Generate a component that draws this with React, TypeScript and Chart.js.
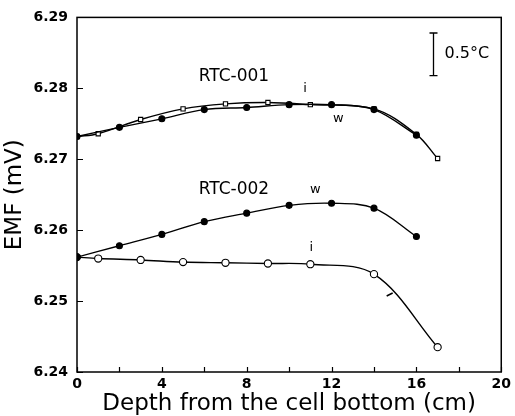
import React, { useEffect, useRef } from "react";
import { Chart, registerables } from "chart.js";

Chart.register(...registerables);

// ---- data ----
const rtc001wDepth = [0, 2, 4, 6, 8, 10, 12, 14, 16];
const rtc001wEmf = [6.2732, 6.2745, 6.2757, 6.277, 6.2773, 6.2777, 6.2777, 6.277, 6.2734];

const rtc001iDepth = [0, 1, 3, 5, 7, 9, 11, 14, 16, 17];
const rtc001iEmf = [6.2732, 6.2736, 6.2756, 6.2771, 6.2778, 6.278, 6.2777, 6.2771, 6.2735, 6.2701];

const rtc002wDepth = [0, 2, 4, 6, 8, 10, 12, 14, 16];
const rtc002wEmf = [6.2562, 6.2578, 6.2594, 6.2612, 6.2624, 6.2635, 6.2638, 6.2631, 6.2591];

const rtc002iDepth = [0, 1, 3, 5, 7, 9, 11, 14, 17];
const rtc002iEmf = [6.2562, 6.256, 6.2558, 6.2555, 6.2554, 6.2553, 6.2552, 6.2538, 6.2435];

const xLabeledTicks = [0, 4, 8, 12, 16, 20];
const yTickLabels = ["6.24", "6.25", "6.26", "6.27", "6.28", "6.29"];

const xTitle = "Depth from the cell bottom (cm)";
const yTitle = "EMF (mV)";

// text annotations placed in data coordinates
const annotations = [
  { text: "RTC-001", x: 7.4, y: 6.2817, size: 17 },
  { text: "i", x: 10.75, y: 6.2799, size: 13 },
  { text: "w", x: 12.32, y: 6.2757, size: 13 },
  { text: "RTC-002", x: 7.4, y: 6.2657, size: 17 },
  { text: "w", x: 11.23, y: 6.2657, size: 13 },
  { text: "i", x: 11.04, y: 6.2575, size: 13 },
];
const scaleBar = { x: 16.77, yTop: 6.2878, yBottom: 6.2818, label: "0.5°C" };

const FONT = "'DejaVu Sans', sans-serif";

const pts = (xs: number[], ys: number[]) => xs.map((x, i) => ({ x, y: ys[i] }));

const framePlugin = {
  id: "frameTicks",
  afterDraw(chart: any) {
    const { ctx, chartArea, scales } = chart;
    const { left, right, top, bottom } = chartArea;
    const xs = scales.x;
    const ys = scales.y;
    ctx.save();
    ctx.strokeStyle = "#000";
    ctx.lineWidth = 1.5;
    ctx.strokeRect(left, top, right - left, bottom - top);
    ctx.lineWidth = 1.2;
    ctx.beginPath();
    xs.ticks.forEach((t: any) => {
      const px = Math.round(xs.getPixelForValue(t.value)) + 0.5;
      ctx.moveTo(px, bottom);
      ctx.lineTo(px, bottom - 5);
    });
    ys.ticks.forEach((t: any) => {
      const py = Math.round(ys.getPixelForValue(t.value)) + 0.5;
      ctx.moveTo(left, py);
      ctx.lineTo(left + 6, py);
    });
    ctx.stroke();

    // text annotations
    ctx.fillStyle = "#000";
    ctx.textAlign = "center";
    ctx.textBaseline = "middle";
    annotations.forEach((a) => {
      ctx.font = `${a.size}px ${FONT}`;
      ctx.fillText(a.text, xs.getPixelForValue(a.x), ys.getPixelForValue(a.y));
    });

    // small mark on RTC-002 i curve
    const mx = xs.getPixelForValue(14.74);
    const my = ys.getPixelForValue(6.251);
    ctx.lineWidth = 1.5;
    ctx.beginPath();
    ctx.moveTo(mx - 3, my + 2);
    ctx.lineTo(mx + 3, my - 1);
    ctx.stroke();

    // scale bar
    const bx = Math.round(xs.getPixelForValue(scaleBar.x)) + 0.5;
    const by1 = ys.getPixelForValue(scaleBar.yTop);
    const by2 = ys.getPixelForValue(scaleBar.yBottom);
    ctx.lineWidth = 1.3;
    ctx.beginPath();
    ctx.moveTo(bx, by1);
    ctx.lineTo(bx, by2);
    ctx.moveTo(bx - 4, by1);
    ctx.lineTo(bx + 4, by1);
    ctx.moveTo(bx - 4, by2);
    ctx.lineTo(bx + 4, by2);
    ctx.stroke();
    ctx.font = `16px ${FONT}`;
    ctx.textAlign = "left";
    ctx.fillText(scaleBar.label, bx + 11, (by1 + by2) / 2);
    ctx.restore();
  },
};

export default function App() {
  const ref = useRef<HTMLCanvasElement | null>(null);
  useEffect(() => {
    if (!ref.current) return;
    const line = {
      borderColor: "#000",
      borderWidth: 1.4,
      pointBorderColor: "#000",
      pointBorderWidth: 1.1,
      tension: 0.35,
      fill: false,
    };
    const chart = new Chart(ref.current, {
      type: "line",
      data: {
        datasets: [
          {
            ...line,
            label: "RTC-001 w",
            data: pts(rtc001wDepth, rtc001wEmf),
            pointStyle: "circle",
            pointRadius: 3,
            pointBackgroundColor: "#000",
          },
          {
            ...line,
            label: "RTC-001 i",
            data: pts(rtc001iDepth, rtc001iEmf),
            pointStyle: "rect",
            pointRadius: 3,
            pointBackgroundColor: "#fff",
          },
          {
            ...line,
            label: "RTC-002 w",
            data: pts(rtc002wDepth, rtc002wEmf),
            pointStyle: "circle",
            pointRadius: 3,
            pointBackgroundColor: "#000",
          },
          {
            ...line,
            label: "RTC-002 i",
            data: pts(rtc002iDepth, rtc002iEmf),
            pointStyle: "circle",
            pointRadius: 3.6,
            pointBackgroundColor: "#fff",
          },
        ],
      },
      options: {
        animation: false,
        responsive: false,
        devicePixelRatio: 1,
        layout: { padding: { top: 14, right: 11, left: 0, bottom: 0 } },
        plugins: { legend: { display: false }, tooltip: { enabled: false } },
        scales: {
          x: {
            type: "linear",
            min: 0,
            max: 20,
            grid: { display: false, drawTicks: false },
            border: { display: false },
            ticks: {
              stepSize: 2,
              autoSkip: false,
              maxRotation: 0,
              padding: 4,
              color: "#000",
              font: { family: FONT, size: 14, weight: "bold" },
              callback: (v: any) => (xLabeledTicks.includes(Number(v)) ? String(v) : ""),
            },
            title: {
              display: true,
              text: xTitle,
              color: "#000",
              font: { family: FONT, size: 23, lineHeight: 1 },
              padding: { top: 0, bottom: 0 },
            },
            afterFit: (s: any) => {
              s.height = 44;
            },
          },
          y: {
            type: "linear",
            min: 6.24,
            max: 6.29,
            grid: { display: false, drawTicks: false },
            border: { display: false },
            ticks: {
              stepSize: 0.01,
              padding: 9,
              color: "#000",
              font: { family: FONT, size: 14, weight: "bold" },
              callback: (v: any) => {
                const s = Number(v).toFixed(2);
                return yTickLabels.includes(s) ? s : "";
              },
            },
            title: {
              display: true,
              text: yTitle,
              color: "#000",
              font: { family: FONT, size: 23, lineHeight: 1 },
              padding: { top: 4, bottom: 0 },
            },
            afterFit: (s: any) => {
              s.width = 77;
            },
          },
        },
      },
      plugins: [framePlugin],
    });
    return () => chart.destroy();
  }, []);

  return (
    <div style={{ position: "absolute", left: 0, top: 0, width: 515, height: 416, background: "#fff" }}>
      <canvas ref={ref} width={515} height={416} />
    </div>
  );
}
